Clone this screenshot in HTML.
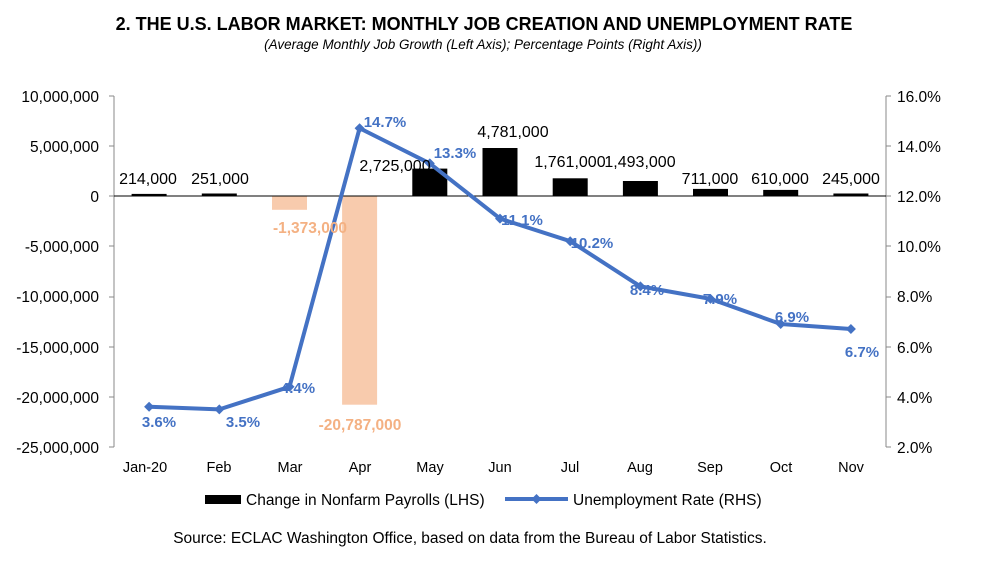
<!DOCTYPE html>
<html><head><meta charset="utf-8"><style>
body{margin:0;background:#fff;}
svg{display:block;font-family:"Liberation Sans",Arial,sans-serif;}
</style></head><body>
<svg width="988" height="561" viewBox="0 0 988 561">
<text x="484" y="30" text-anchor="middle" font-size="18" font-weight="bold">2. THE U.S. LABOR MARKET: MONTHLY JOB CREATION AND UNEMPLOYMENT RATE</text>
<text x="483" y="49" text-anchor="middle" font-size="13.5" font-style="italic">(Average Monthly Job Growth (Left Axis); Percentage Points (Right Axis))</text>
<g font-size="15.5" text-anchor="end">
<text x="99" y="102">10,000,000</text><text x="99" y="152">5,000,000</text><text x="99" y="202">0</text>
<text x="99" y="252">-5,000,000</text><text x="99" y="302">-10,000,000</text><text x="99" y="353">-15,000,000</text>
<text x="99" y="403">-20,000,000</text><text x="99" y="453">-25,000,000</text>
</g>
<g font-size="15.5">
<text x="897" y="102">16.0%</text><text x="897" y="152">14.0%</text><text x="897" y="202">12.0%</text>
<text x="897" y="252">10.0%</text><text x="897" y="302">8.0%</text><text x="897" y="353">6.0%</text>
<text x="897" y="403">4.0%</text><text x="897" y="453">2.0%</text>
</g>
<g stroke="#888" stroke-width="1">
<line x1="114" y1="96" x2="114" y2="447"/><line x1="886" y1="96" x2="886" y2="447"/>
<line x1="109" y1="96" x2="114" y2="96"/><line x1="109" y1="146" x2="114" y2="146"/><line x1="109" y1="196" x2="114" y2="196"/><line x1="109" y1="246" x2="114" y2="246"/><line x1="109" y1="297" x2="114" y2="297"/><line x1="109" y1="347" x2="114" y2="347"/><line x1="109" y1="397" x2="114" y2="397"/><line x1="109" y1="447" x2="114" y2="447"/>
<line x1="886" y1="96" x2="891" y2="96"/><line x1="886" y1="146" x2="891" y2="146"/><line x1="886" y1="196" x2="891" y2="196"/><line x1="886" y1="246" x2="891" y2="246"/><line x1="886" y1="297" x2="891" y2="297"/><line x1="886" y1="347" x2="891" y2="347"/><line x1="886" y1="397" x2="891" y2="397"/><line x1="886" y1="447" x2="891" y2="447"/>
</g>
<g fill="#000">
<rect x="131.6" y="193.9" width="35" height="2.1"/>
<rect x="201.8" y="193.5" width="35" height="2.5"/>
<rect x="412.3" y="168.6" width="35" height="27.4"/>
<rect x="482.5" y="148" width="35" height="48"/>
<rect x="552.7" y="178.3" width="35" height="17.7"/>
<rect x="622.9" y="181" width="35" height="15"/>
<rect x="693" y="188.9" width="35" height="7.1"/>
<rect x="763.2" y="189.9" width="35" height="6.1"/>
<rect x="833.4" y="193.5" width="35" height="2.5"/>
</g>
<g fill="#f8cbad">
<rect x="272" y="196" width="35" height="13.8"/>
<rect x="342.1" y="196" width="35" height="208.7"/>
</g>
<line x1="114" y1="196" x2="886" y2="196" stroke="#000" stroke-width="1"/>
<polyline fill="none" stroke="#4472c4" stroke-width="4" stroke-linejoin="round" points="149.1,406.8 219.3,409.4 289.5,386.8 359.6,128.2 429.8,163.4 500,218.6 570.2,241.2 640.4,286.4 710.5,298.9 780.7,324 850.9,329"/>
<g fill="#4472c4">
<path d="M149.1,401.8l5,5l-5,5l-5,-5z"/><path d="M219.3,404.4l5,5l-5,5l-5,-5z"/><path d="M289.5,381.8l5,5l-5,5l-5,-5z"/><path d="M359.6,123.2l5,5l-5,5l-5,-5z"/><path d="M429.8,158.4l5,5l-5,5l-5,-5z"/><path d="M500,213.6l5,5l-5,5l-5,-5z"/><path d="M570.2,236.2l5,5l-5,5l-5,-5z"/><path d="M640.4,281.4l5,5l-5,5l-5,-5z"/><path d="M710.5,293.9l5,5l-5,5l-5,-5z"/><path d="M780.7,319l5,5l-5,5l-5,-5z"/><path d="M850.9,324l5,5l-5,5l-5,-5z"/>
</g>
<g font-size="16" text-anchor="middle">
<text x="148" y="184">214,000</text><text x="220" y="184">251,000</text>
<text x="395" y="171">2,725,000</text><text x="513" y="137">4,781,000</text>
<text x="570" y="167">1,761,000</text><text x="640" y="167">1,493,000</text>
<text x="710" y="184">711,000</text><text x="780" y="184">610,000</text><text x="851" y="184">245,000</text>
</g>
<g font-size="15.5" text-anchor="middle" fill="#f4b183" font-weight="bold">
<text x="310" y="233">-1,373,000</text><text x="360" y="430">-20,787,000</text>
</g>
<g font-size="15" text-anchor="middle" fill="#4472c4" font-weight="bold">
<text x="159" y="427">3.6%</text><text x="243" y="427">3.5%</text><text x="298" y="393">4.4%</text>
<text x="385" y="127">14.7%</text><text x="455" y="158">13.3%</text><text x="522" y="225">11.1%</text>
<text x="592" y="248">10.2%</text><text x="647" y="295">8.4%</text><text x="720" y="304">7.9%</text>
<text x="792" y="322">6.9%</text><text x="862" y="357">6.7%</text>
</g>
<g font-size="14.5" text-anchor="middle">
<text x="145" y="472">Jan-20</text><text x="219" y="472">Feb</text><text x="290" y="472">Mar</text><text x="360" y="472">Apr</text>
<text x="430" y="472">May</text><text x="500" y="472">Jun</text><text x="570" y="472">Jul</text><text x="640" y="472">Aug</text>
<text x="710" y="472">Sep</text><text x="781" y="472">Oct</text><text x="851" y="472">Nov</text>
</g>
<rect x="205" y="495" width="36" height="9" fill="#000"/>
<text x="246" y="505" font-size="15.5">Change in Nonfarm Payrolls (LHS)</text>
<line x1="505" y1="499" x2="568" y2="499" stroke="#4472c4" stroke-width="4"/>
<path d="M536.5,494l5,5l-5,5l-5,-5z" fill="#4472c4"/>
<text x="573" y="505" font-size="15.5">Unemployment Rate (RHS)</text>
<text x="470" y="543" font-size="15.5" text-anchor="middle">Source: ECLAC Washington Office, based on data from the Bureau of Labor Statistics.</text>
</svg>
</body></html>
